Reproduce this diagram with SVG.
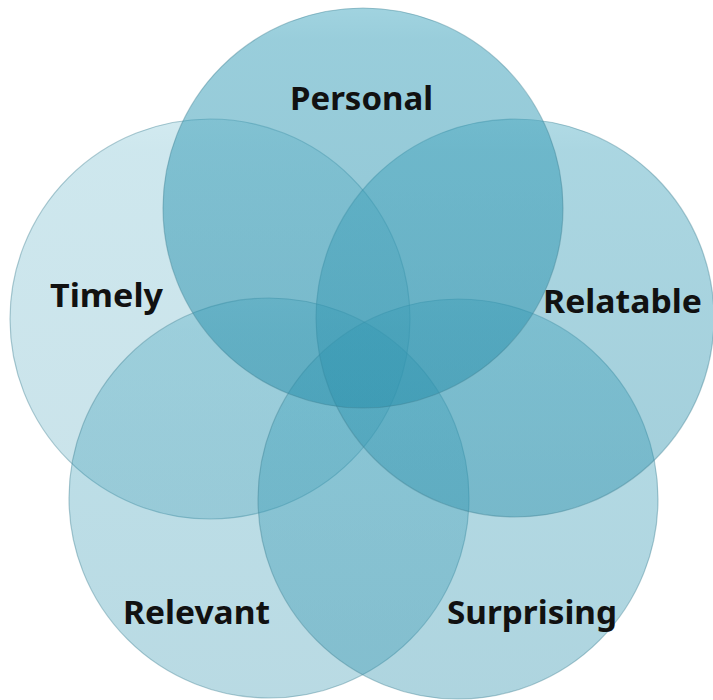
<svg xmlns="http://www.w3.org/2000/svg" width="713" height="700" viewBox="0 0 713 700">
  <defs>
    <linearGradient id="g" x1="0" y1="0" x2="0" y2="1">
      <stop offset="0" stop-color="#4aabc3"/>
      <stop offset="0.08" stop-color="#3ba0ba"/>
      <stop offset="1" stop-color="#2a8fab"/>
    </linearGradient>
    <style>
      .c { fill: url(#g); stroke: #3f7f92; stroke-opacity: 0.4; stroke-width: 1.2; }
      .t { font-family: "Noto Sans", "Open Sans", Arial, sans-serif; font-weight: bold; font-size: 33px; fill: #111; }
    </style>
  </defs>
  <rect width="713" height="700" fill="#ffffff"/>
  <g id="timely">
    <circle class="c" cx="210" cy="319" r="200" fill-opacity="0.25"/>
    <text class="t" x="50" y="307" textLength="113" lengthAdjust="spacingAndGlyphs">Timely</text>
  </g>
  <g id="relevant">
    <circle class="c" cx="269" cy="498" r="200" fill-opacity="0.33"/>
    <text class="t" x="123" y="624" textLength="147" lengthAdjust="spacingAndGlyphs">Relevant</text>
  </g>
  <g id="surprising">
    <circle class="c" cx="458" cy="499" r="200" fill-opacity="0.38"/>
    <text class="t" x="447" y="624" textLength="170" lengthAdjust="spacingAndGlyphs">Surprising</text>
  </g>
  <g id="relatable">
    <circle class="c" cx="515" cy="318" r="199" fill-opacity="0.43"/>
    <text class="t" x="543" y="313" textLength="159" lengthAdjust="spacingAndGlyphs">Relatable</text>
  </g>
  <g id="personal">
    <circle class="c" cx="363" cy="208" r="200" fill-opacity="0.52"/>
    <text class="t" x="290" y="110" textLength="143" lengthAdjust="spacingAndGlyphs">Personal</text>
  </g>
  <g id="connectors"/>
</svg>
